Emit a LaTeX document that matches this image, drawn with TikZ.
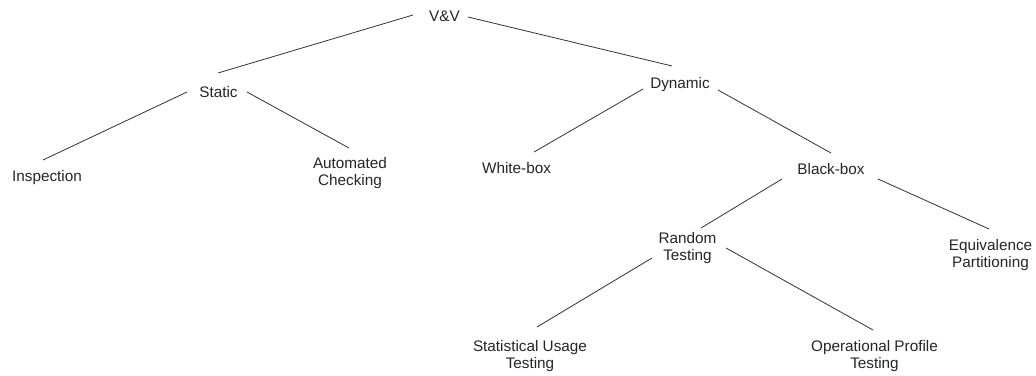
\documentclass[tikz,border=0pt]{standalone}
\usepackage{fontspec}
\setmainfont{Liberation Sans}
\begin{document}
\begin{tikzpicture}[x=1pt,y=-1pt,
  label/.style={anchor=north,inner sep=0pt,align=center,text=black!85,
    font=\fontsize{15.3}{17.5}\selectfont},
  branch/.style={draw=black!80,line width=0.8pt}]
\useasboundingbox[fill=white] (0,0) rectangle (1036,375);

% tree labels (placed by the top of their text)
\node[label] (vv)     at (444.5,11)  {V\&V};
\node[label] (static) at (218.5,86)  {Static};
\node[label] (dyn)    at (680,77)    {Dynamic};
\node[label] (insp)   at (47,170)    {Inspection};
\node[label] (auto)   at (350,157)   {Automated\\Checking};
\node[label] (white)  at (516.5,162) {White-box};
\node[label] (black)  at (831,163)   {Black-box};
\node[label] (rand)   at (687.5,232) {Random\\Testing};
\node[label] (equiv)  at (990.5,239) {Equivalence\\Partitioning};
\node[label] (stat)   at (530,340)   {Statistical Usage\\Testing};
\node[label] (oper)   at (874.5,340) {Operational Profile\\Testing};

% branches: from beside the parent to just above the child
\draw[branch] ([shift={(-31.5,4)}]vv.north)    -- ([shift={(-0.5,-13)}]static.north);
\draw[branch] ([shift={(23.5,6)}]vv.north)     -- ([shift={(-8,-11)}]dyn.north);
\draw[branch] ([shift={(-31.5,6)}]static.north) -- ([shift={(-4,-10)}]insp.north);
\draw[branch] ([shift={(28.5,6)}]static.north)  -- ([shift={(-1,-9)}]auto.north);
\draw[branch] ([shift={(-37,12)}]dyn.north)    -- ([shift={(17.5,-10)}]white.north);
\draw[branch] ([shift={(38,13)}]dyn.north)     -- ([shift={(0,-10)}]black.north);
\draw[branch] ([shift={(-49,16)}]black.north)  -- ([shift={(13.5,-4)}]rand.north);
\draw[branch] ([shift={(47,16)}]black.north)   -- ([shift={(-1.5,-10)}]equiv.north);
\draw[branch] ([shift={(-35.5,26)}]rand.north) -- ([shift={(7,-13)}]stat.north);
\draw[branch] ([shift={(38.5,16)}]rand.north)  -- ([shift={(-1.5,-10)}]oper.north);
\end{tikzpicture}
\end{document}
